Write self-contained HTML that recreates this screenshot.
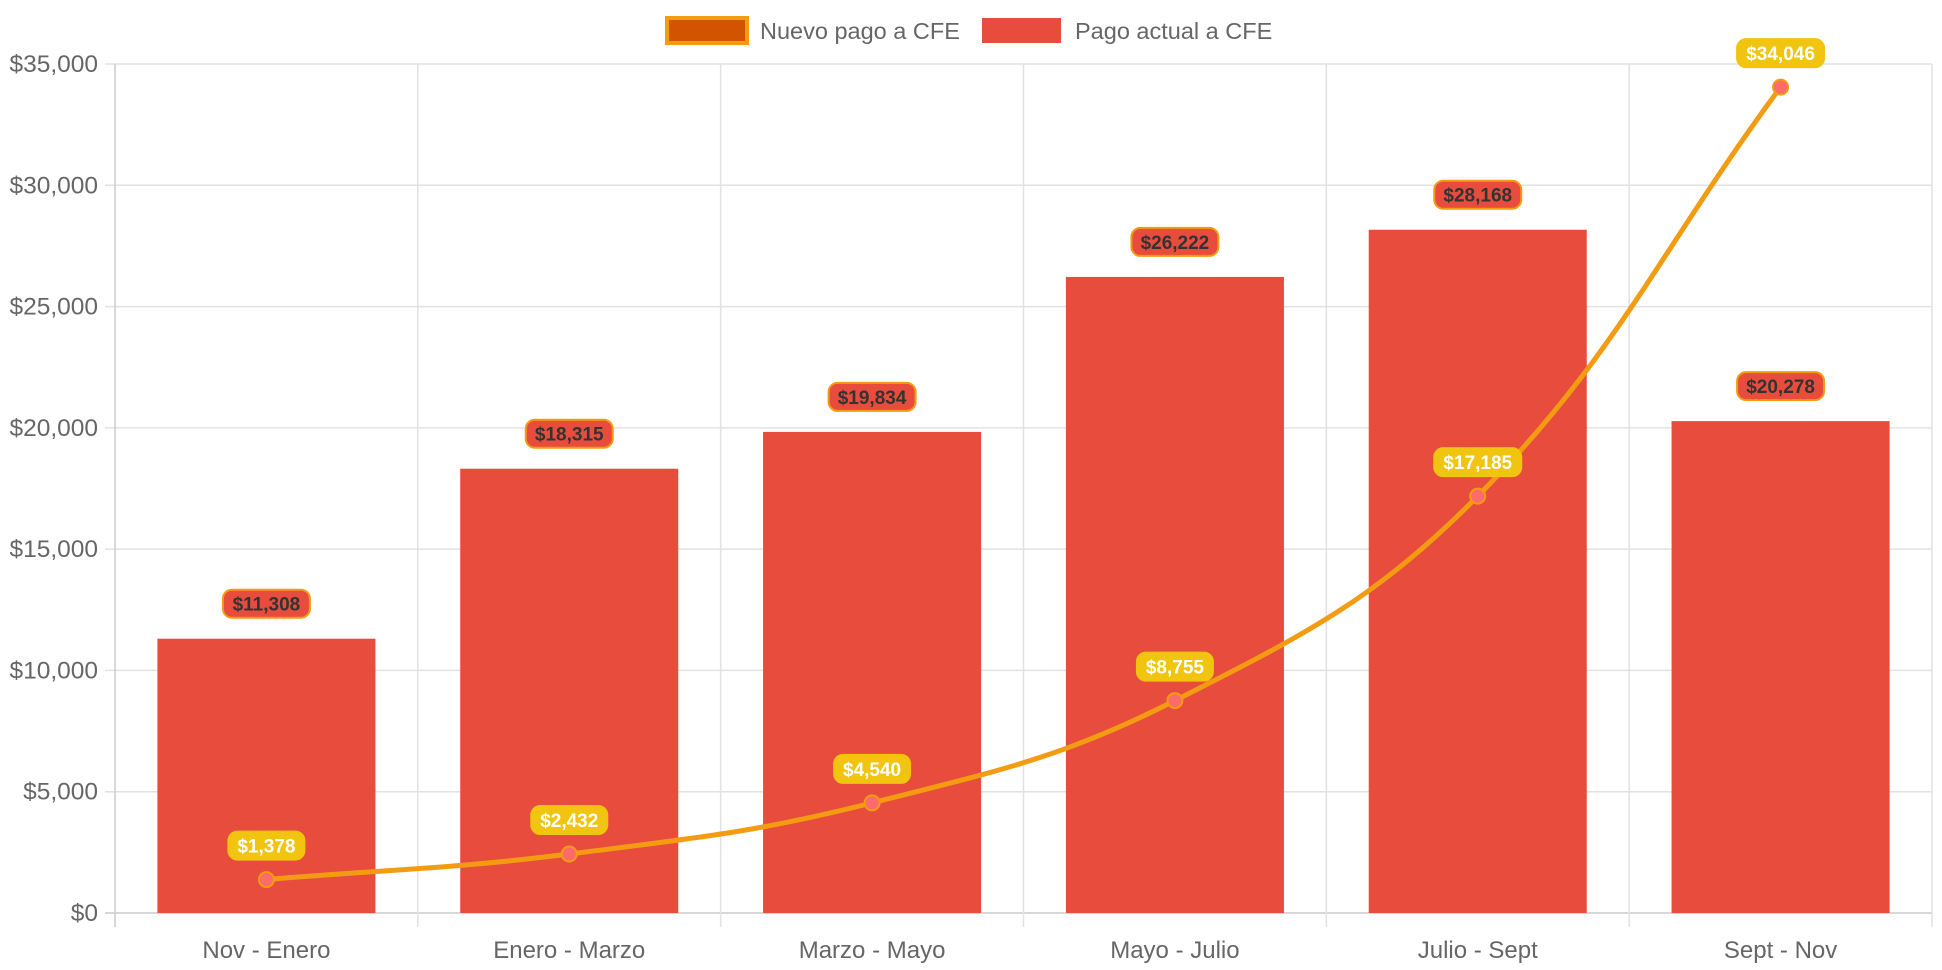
<!DOCTYPE html>
<html><head><meta charset="utf-8"><style>
html,body{margin:0;padding:0;background:#fff;width:1942px;height:970px;overflow:hidden}
svg text{font-family:"Liberation Sans",Arial,sans-serif}
</style></head><body>
<svg id="chart" width="1942" height="970" xmlns="http://www.w3.org/2000/svg">
<g id="legend">
  <g>
    <rect x="667" y="18" width="80" height="25" fill="#d35400" stroke="#f39c12" stroke-width="4"/>
    <text x="760" y="39" font-size="23.5" fill="#666">Nuevo pago a CFE</text>
  </g>
  <g>
    <rect x="982" y="18" width="79" height="25" fill="#e74c3c"/>
    <text x="1075" y="39" font-size="23.5" fill="#666">Pago actual a CFE</text>
  </g>
</g>
<g id="grid"></g>
<g id="yaxis"></g>
<g id="xaxis"></g>
<g id="bars"></g>
<g id="line"></g>
<g id="labels"></g>
</svg>
<script>
const categories = ["Nov - Enero","Enero - Marzo","Marzo - Mayo","Mayo - Julio","Julio - Sept","Sept - Nov"];
const pagoActual = [11308,18315,19834,26222,28168,20278];
const nuevoPago = [1378,2432,4540,8755,17185,34046];
const yTicks = [0,5000,10000,15000,20000,25000,30000,35000];

const NS="http://www.w3.org/2000/svg";
const L=115,R=1932,T=64,B=913,YMAX=35000;
const cw=(R-L)/categories.length;
const x=i=>L+cw*(i+0.5);
const y=v=>B-(v/YMAX)*(B-T);
const fmt=v=>"$"+v.toLocaleString("en-US");
function mk(tag,attrs,parent,txt){const e=document.createElementNS(NS,tag);for(const k in attrs)e.setAttribute(k,attrs[k]);if(txt!==undefined)e.textContent=txt;parent.appendChild(e);return e;}
const grid=document.getElementById("grid"),ya=document.getElementById("yaxis"),xa=document.getElementById("xaxis");
yTicks.forEach(t=>{
  const l=mk("line",{x1:L-10,x2:R,y1:y(t),y2:y(t),stroke:t===0?"#ccc":"#e2e2e2","stroke-width":1.5},grid);
  
  
  const tx=mk("text",{x:L-17,y:y(t)+8,"text-anchor":"end","font-size":24.5,fill:"#666"},ya,fmt(t));
  
  
});
for(let i=0;i<=categories.length;i++){
  const l=mk("line",{x1:L+cw*i,x2:L+cw*i,y1:T,y2:B+14,stroke:i===0?"#ccc":"#e2e2e2","stroke-width":1.5},grid);
  
  
}
categories.forEach((c,i)=>{
  const tx=mk("text",{x:x(i),y:958,"text-anchor":"middle","font-size":24,fill:"#666"},xa,c);
  
  
});
const bars=document.getElementById("bars"),bw=cw*0.72;
pagoActual.forEach((v,i)=>{
  const r=mk("rect",{x:x(i)-bw/2,y:y(v),width:bw,height:B-y(v),fill:"#e74c3c"},bars);
  
  
});
// Chart.js-style spline, tension 0.4
const px=nuevoPago.map((v,i)=>x(i)),py=nuevoPago.map(v=>y(v)),n=px.length,ten=0.4;
const cp=[];
for(let i=0;i<n;i++){
  const pv=i>0?i-1:i,nx=i<n-1?i+1:i;
  const d01=Math.hypot(px[i]-px[pv],py[i]-py[pv]),d12=Math.hypot(px[nx]-px[i],py[nx]-py[i]);
  let fa=d01/(d01+d12),fb=d12/(d01+d12);if(isNaN(fa))fa=0;if(isNaN(fb))fb=0;
  fa*=ten;fb*=ten;
  cp.push({px:px[i]-fa*(px[nx]-px[pv]),py:py[i]-fa*(py[nx]-py[pv]),nx:px[i]+fb*(px[nx]-px[pv]),ny:py[i]+fb*(py[nx]-py[pv])});
}
let p="M"+px[0]+","+py[0];
for(let i=0;i<n-1;i++)p+=" C"+cp[i].nx+","+cp[i].ny+" "+cp[i+1].px+","+cp[i+1].py+" "+px[i+1]+","+py[i+1];
const lg=document.getElementById("line");
const path=mk("path",{d:p,fill:"none",stroke:"#f39c12","stroke-width":5},lg);


nuevoPago.forEach((v,i)=>{
  const c=mk("circle",{cx:x(i),cy:y(v),r:7.5,fill:"#ff6b6b",stroke:"#f39c12","stroke-width":2},lg);
  
  
});
const lab=document.getElementById("labels");
function bubble(cx,cy,text,fill,stroke,color,name){
  const g=mk("g",{},lab);
  
  
  const w=text.length*11+10;
  mk("rect",{x:cx-w/2,y:cy-14,width:w,height:28,rx:9,fill:fill,stroke:stroke,"stroke-width":2},g);
  mk("text",{x:cx,y:cy+7,"text-anchor":"middle","font-size":19,"font-weight":"bold",fill:color},g,text);
}
pagoActual.forEach((v,i)=>bubble(x(i),y(v)-35,fmt(v),"#e74c3c","#f39c12","#333","bar-label-"+i));
nuevoPago.forEach((v,i)=>bubble(x(i),y(v)-34,fmt(v),"#f1c40f","#f1c40f","#fff","point-label-"+i));
</script>
</body></html>
